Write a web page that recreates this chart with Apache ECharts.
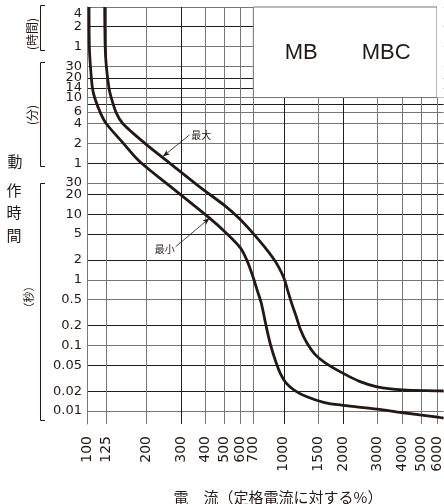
<!DOCTYPE html>
<html><head><meta charset="utf-8">
<script src="https://cdn.jsdelivr.net/npm/echarts@6/dist/echarts.min.js"></script>
<style>html,body{margin:0;padding:0;background:#fff}#c{width:444px;height:504px}</style>
</head><body><div id="c"></div>
<script>
// X ticks: current (% of rated current)
const currentTicks = [100,125,200,300,400,500,600,700,1000,1500,2000,3000,4000,5000,6000];
// Y ticks: operating time in seconds (hours / minutes / seconds bands)
const timeTicks = [0.01,0.02,0.05,0.1,0.2,0.5,1,2,5,10,20,30,60,120,240,360,480,600,840,1200,1800,3600,7200,14400];
const timeLabelValues = [0.01,0.02,0.05,0.1,0.2,0.5,1,2,5,10,20,30,60,120,240,360,600,840,1200,1800,3600,7200,14400];

// minimum curve (最小)
const minCurrent = [102.4,102.8,104.1,106.5,109.4,117.0,125.4,152.3,185.2,278.7,419.7,500,602.9,654.2,696.2,731.3,768,814,856,915,962,1028,1133,1300,1609,1993,2979,3972,6050,6480];
const minTime    = [14400,3600,1800,845,595,351,239,122.5,63.6,23.5,8.72,5.45,3.04,1.88,1.123,0.703,0.441,0.194,0.1021,0.0538,0.0369,0.0266,0.02066,0.01663,0.01346,0.01222,0.01069,0.00949,0.00808,0.0078];
// maximum curve (最大)
const maxCurrent = [123,123.7,125.4,129.3,133.0,141.0,152.3,196.3,262.9,373.3,510.1,595.8,696.2,798,879.5,940,1000,1044,1094,1156,1216,1300,1432,1609,1993,2423,2979,4018,6050,6480];
const maxTime    = [14400,3560,1784,836,588,347.6,239,121.2,60.1,26.1,12.96,8.51,5.15,3.18,2.164,1.577,1.072,0.703,0.446,0.2756,0.1728,0.1134,0.0744,0.0553,0.0378,0.02834,0.02338,0.02104,0.02032,0.0202];

const BLK = '#1e1e1e', GRY = '#777777', INK = '#231815';
const xLineColors = [GRY,GRY,GRY,BLK,GRY,GRY,GRY,GRY,BLK,GRY,BLK,GRY,GRY,GRY,GRY];
const yLineColors = [GRY,BLK,BLK,GRY,BLK,GRY,GRY,BLK,BLK,BLK,BLK,GRY,BLK,GRY,GRY,GRY,BLK,GRY,BLK,BLK,GRY,GRY,BLK,GRY];

const zip = (a, b) => a.map((v, i) => [v, b[i]]);
const fmtTime = v => {
  let r = v >= 3600 ? v / 3600 : v >= 60 ? v / 60 : v;
  return String(+r.toPrecision(6));
};

const chart = echarts.init(document.getElementById('c'), null, {renderer: 'canvas'});
chart.setOption({
  animation: false,
  backgroundColor: '#fff',
  grid: {left: 87, right: 0, top: 7, bottom: 80},
  xAxis: {
    type: 'log', min: 100, max: 6480,
    axisLine: {show: false},
    axisTick: {show: false, customValues: currentTicks},
    splitLine: {show: true, lineStyle: {color: xLineColors, width: 1}},
    minorSplitLine: {show: false},
    axisLabel: {
      customValues: currentTicks, rotate: 90, margin: 12,
      fontFamily: 'DejaVu Sans', fontSize: 14, color: INK,
      formatter: v => String(Math.round(v))
    }
  },
  yAxis: {
    type: 'log', min: 0.00634, max: 14400,
    axisLine: {show: true, lineStyle: {color: GRY, width: 1}},
    axisTick: {show: false, customValues: timeTicks},
    splitLine: {show: true, lineStyle: {color: yLineColors, width: 1}},
    axisLabel: {
      customValues: timeLabelValues, margin: 5,
      verticalAlignMaxLabel: 'top',
      fontFamily: 'DejaVu Sans', fontSize: 13, color: INK,
      formatter: fmtTime
    }
  },
  series: [
    {
      type: 'line', name: '最小', data: zip(minCurrent, minTime),
      showSymbol: false, smooth: 0.3,
      lineStyle: {color: INK, width: 2.8},
      markLine: {
        silent: true, symbol: ['none', 'arrow'], symbolSize: [4, 7],
        label: {show: false},
        lineStyle: {color: INK, width: 0.8, type: 'solid'},
        data: [[{coord: [282, 3.19]}, {coord: [419.7, 8.72]}]]
      },
      markPoint: {
        silent: true, symbol: 'circle', symbolSize: 0,
        label: {show: true, position: 'inside', formatter: '{b}', fontFamily: 'Noto Sans CJK JP', fontSize: 10, color: INK},
        data: [{name: '最小', coord: [248, 2.97]}]
      }
    },
    {
      type: 'line', name: '最大', data: zip(maxCurrent, maxTime),
      showSymbol: false, smooth: 0.3,
      lineStyle: {color: INK, width: 2.8},
      markLine: {
        silent: true, symbol: ['none', 'arrow'], symbolSize: [4, 7],
        label: {show: false},
        lineStyle: {color: INK, width: 0.8, type: 'solid'},
        data: [[{coord: [332, 162]}, {coord: [243, 75.8]}]]
      },
      markPoint: {
        silent: true, symbol: 'circle', symbolSize: 0,
        label: {show: true, position: 'inside', formatter: '{b}', fontFamily: 'Noto Sans CJK JP', fontSize: 10, color: INK},
        data: [
          {name: '最大', coord: [380.8, 157.9]},
          {name: 'MB', coord: [1226, 2885], label: {fontFamily: 'Liberation Sans', fontSize: 22}},
          {name: 'MBC', coord: [3310, 2885], label: {fontFamily: 'Liberation Sans', fontSize: 22}}
        ]
      },
      markArea: {
        silent: true,
        data: [
          [{coord: [700, 14400], itemStyle: {color: '#fff', borderColor: GRY, borderWidth: 1}}, {coord: [6000, 600]}],
          [{coord: [6000, 14400], itemStyle: {color: '#fff', borderWidth: 0}}, {coord: [6480, 600]}]
        ]
      }
    }
  ],
  graphic: [
    {type: 'polyline', shape: {points: [[45, 5.5], [40.5, 5.5], [40.5, 50.5], [45, 50.5]]}, style: {stroke: INK, lineWidth: 1, fill: null}},
    {type: 'polyline', shape: {points: [[45, 62.5], [40.5, 62.5], [40.5, 166.5], [45, 166.5]]}, style: {stroke: INK, lineWidth: 1, fill: null}},
    {type: 'polyline', shape: {points: [[45, 183.5], [40.5, 183.5], [40.5, 420.5], [45, 420.5]]}, style: {stroke: INK, lineWidth: 1, fill: null}},
    {type: 'text', x: 32, y: 34, rotation: Math.PI / 2, style: {text: '(時間)', fontFamily: 'Noto Sans CJK JP', fontSize: 12, fill: INK, align: 'center', verticalAlign: 'middle'}},
    {type: 'text', x: 32, y: 115, rotation: Math.PI / 2, style: {text: '(分)', fontFamily: 'Noto Sans CJK JP', fontSize: 12, fill: INK, align: 'center', verticalAlign: 'middle'}},
    {type: 'text', x: 29, y: 297, rotation: Math.PI / 2, style: {text: '（秒）', fontFamily: 'Noto Sans CJK JP', fontSize: 11, fill: INK, align: 'center', verticalAlign: 'middle'}},
    {type: 'text', x: 15, y: 161, style: {text: '動', fontFamily: 'Noto Sans CJK JP', fontSize: 15, fill: INK, align: 'center', verticalAlign: 'middle'}},
    {type: 'text', x: 14, y: 190.5, style: {text: '作', fontFamily: 'Noto Sans CJK JP', fontSize: 15, fill: INK, align: 'center', verticalAlign: 'middle'}},
    {type: 'text', x: 14, y: 212.5, style: {text: '時', fontFamily: 'Noto Sans CJK JP', fontSize: 15, fill: INK, align: 'center', verticalAlign: 'middle'}},
    {type: 'text', x: 14, y: 235.5, style: {text: '間', fontFamily: 'Noto Sans CJK JP', fontSize: 15, fill: INK, align: 'center', verticalAlign: 'middle'}},
    {type: 'text', x: 278, y: 497, style: {text: '電　流（定格電流に対する%）', fontFamily: 'Noto Sans CJK JP', fontSize: 15, fill: INK, align: 'center', verticalAlign: 'middle'}}
  ]
});
</script>
</body></html>
